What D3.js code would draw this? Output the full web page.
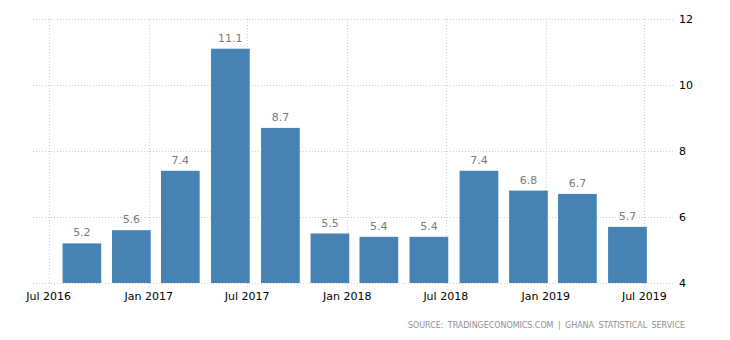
<!DOCTYPE html>
<html><head><meta charset="utf-8">
<script src="https://cdn.jsdelivr.net/npm/d3@7"></script>
<style>body{margin:0;background:#fff}svg{display:block}</style>
</head><body>
<svg id="c" width="730" height="340"></svg>
<script>
const dates = ["2016-08-31","2016-11-30","2017-02-28","2017-05-31","2017-08-31","2017-11-30","2018-02-28","2018-05-31","2018-08-31","2018-11-30","2019-02-28","2019-05-31"];
const values = [5.2, 5.6, 7.4, 11.1, 8.7, 5.5, 5.4, 5.4, 7.4, 6.8, 6.7, 5.7];
const xTickDates = ["2016-07-01","2017-01-01","2017-07-01","2018-01-01","2018-07-01","2019-01-01","2019-07-01"];
const yTicks = [4, 6, 8, 10, 12];
const sourceText = "SOURCE: TRADINGECONOMICS.COM | GHANA STATISTICAL SERVICE";

(function () {
const parse = d3.utcParse("%Y-%m-%d");
const svg = d3.select("#c");
const pLeft = 33, pRight = 675, pTop = 19, pBottom = 283;

const x = d3.scaleUtc().domain([parse("2016-07-01"), parse("2019-07-01")]).range([48.7, 644.3]);
const y = d3.scaleLinear().domain([4, 12]).range([pBottom, pTop]);
const barW = 38.7;

// horizontal grid
svg.append("g").selectAll("line").data(yTicks).join("line")
  .attr("x1", pLeft).attr("x2", pRight)
  .attr("y1", d => Math.round(y(d)) + 0.5).attr("y2", d => Math.round(y(d)) + 0.5)
  .attr("stroke", "#cccccc").attr("stroke-width", 1).attr("stroke-dasharray", "1,2");

// vertical grid
svg.append("g").selectAll("line").data(xTickDates).join("line")
  .attr("x1", d => Math.round(x(parse(d))) + 0.5).attr("x2", d => Math.round(x(parse(d))) + 0.5)
  .attr("y1", pTop).attr("y2", pBottom + 4)
  .attr("stroke", "#cccccc").attr("stroke-width", 1).attr("stroke-dasharray", "1,2");

// bars
const data = dates.map((d, i) => ({date: parse(d), value: values[i]}));
svg.append("g").selectAll("rect").data(data).join("rect")
  .attr("x", d => x(d.date) - barW / 2)
  .attr("width", barW)
  .attr("y", d => y(d.value))
  .attr("height", d => y(4) - y(d.value))
  .attr("fill", "#4682b4");

// value labels
svg.append("g").selectAll("text").data(data).join("text")
  .attr("x", d => x(d.date))
  .attr("y", d => y(d.value) - 7)
  .attr("text-anchor", "middle")
  .attr("font-family", "DejaVu Sans, sans-serif")
  .attr("font-size", 11)
  .attr("fill", "#7a7a7a")
  .text(d => d.value.toFixed(1));

// x axis labels
const fmt = d3.utcFormat("%b %Y");
svg.append("g").selectAll("text").data(xTickDates).join("text")
  .attr("x", d => x(parse(d)))
  .attr("y", 300)
  .attr("text-anchor", "middle")
  .attr("font-family", "DejaVu Sans, sans-serif")
  .attr("font-size", 11)
  .attr("fill", "#000")
  .text(d => fmt(parse(d)));

// y axis labels
svg.append("g").selectAll("text").data(yTicks).join("text")
  .attr("x", 679)
  .attr("y", d => y(d) + 4)
  .attr("text-anchor", "start")
  .attr("font-family", "DejaVu Sans, sans-serif")
  .attr("font-size", 11)
  .attr("fill", "#000")
  .text(d => d);

// source
svg.append("text")
  .attr("x", 685).attr("y", 328)
  .attr("text-anchor", "end")
  .attr("font-family", "DejaVu Sans, sans-serif")
  .attr("font-size", 8)
  .attr("fill", "#909090")
  .attr("word-spacing", 2)
  .attr("textLength", 277)
  .attr("lengthAdjust", "spacing")
  .text(sourceText);
})();
</script>
</body></html>
